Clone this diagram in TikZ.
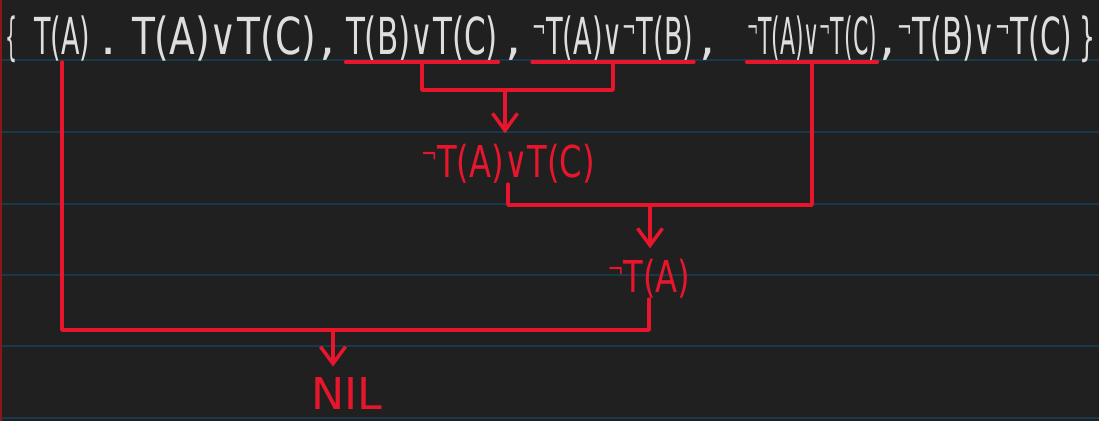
\documentclass[tikz,border=0pt]{standalone}
\usepackage{fontspec}
\usepackage{graphicx}
\usetikzlibrary{arrows.meta,calc}
\newfontfamily\hand{DejaVu Sans}
\definecolor{board}{RGB}{32,32,32}
\definecolor{ruling}{RGB}{26,56,76}
\definecolor{margin}{RGB}{140,22,26}
\definecolor{chalk}{RGB}{222,222,222}
\definecolor{ink}{RGB}{232,22,44}
\newcommand\nott{\raisebox{0.32em}{\scalebox{0.6}{¬}}}
\newcommand\fitw[2]{\resizebox{#1}{\height}{#2}}
\tikzset{
  clause/.style={text=chalk, font=\hand\fontsize{29}{30}\selectfont, inner sep=0pt, anchor=base},
  result/.style={text=ink, font=\hand\fontsize{25}{27}\selectfont, inner sep=0pt, anchor=base},
  link/.style={draw=ink, line width=2pt, line cap=round, line join=round},
  arrow/.style={link, -{Straight Barb[length=0.34cm,width=0.5cm]}, shorten >=0.22cm},
}

\begin{document}
\begin{tikzpicture}[x=0.02cm, y=-0.02cm]
  % notebook page
  \fill[board] (0,0) rectangle (1099,421);
  \useasboundingbox (0,0) rectangle (1099,421);
  \foreach \y in {60,132,204,275,346,418}
    \draw[ruling, line width=0.8pt] (0,\y) -- (1099,\y);
  \draw[margin, line width=1pt] (1,0) -- (1,421);

  % the clause set
  \node[clause] (lb) at (11,55)  {\fitw{0.24cm}{\{}};
  \node[clause] (c1) at (62,55)  {\fitw{1.12cm}{T(A)}};
  \node[clause] (p1) at (109,55) {.};
  \node[clause] (c2) at (224,55) {\fitw{3.68cm}{T(A)∨T(C)}};
  \node[clause] (k2) at (328,55) {,};
  \node[clause] (c3) at (422,55) {\fitw{3.04cm}{T(B)∨T(C)}};
  \node[clause] (k3) at (514,55) {,};
  \node[clause] (c4) at (613,55) {\fitw{3.22cm}{\nott T(A)∨\nott T(B)}};
  \node[clause] (k4) at (708,55) {,};
  \node[clause] (c5) at (812,55) {\fitw{2.60cm}{\nott T(A)∨\nott T(C)}};
  \node[clause] (k5) at (888,55) {,};
  \node[clause] (c6) at (985,55) {\fitw{3.50cm}{\nott T(B)∨\nott T(C)}};
  \node[clause] (rb) at (1087,55) {\fitw{0.32cm}{\}}};

  % resolvents
  \node[result] (r1) at (508,178) {\fitw{3.48cm}{\nott T(A)∨T(C)}};
  \node[result] (r2) at (649,293) {\fitw{1.66cm}{\nott T(A)}};
  \node[result] (nil) at (347,410) {\fitw{1.42cm}{NIL}};

  % underlined parents
  \draw[link] (c3.south west) -- (c3.south east);
  \draw[link] (c4.south west) -- (c4.south east);
  \draw[link] (c5.south west) -- (c5.south east);

  % resolution steps
  \coordinate (j1) at (505,90);
  \coordinate (j2) at (650,205);
  \coordinate (j3) at (333,330);
  \draw[link] (c3.south) |- (j1) -| (c4.south);
  \draw[arrow] (j1) -- (j1 |- r1.north);
  \draw[link] (r1.south) |- (j2) -| (c5.south);
  \draw[arrow] (j2) -- (j2 |- r2.north);
  \draw[link] (r2.south) |- (j3) -| (c1.south);
  \draw[arrow] (j3) -- (j3 |- nil.north);
\end{tikzpicture}
\end{document}
